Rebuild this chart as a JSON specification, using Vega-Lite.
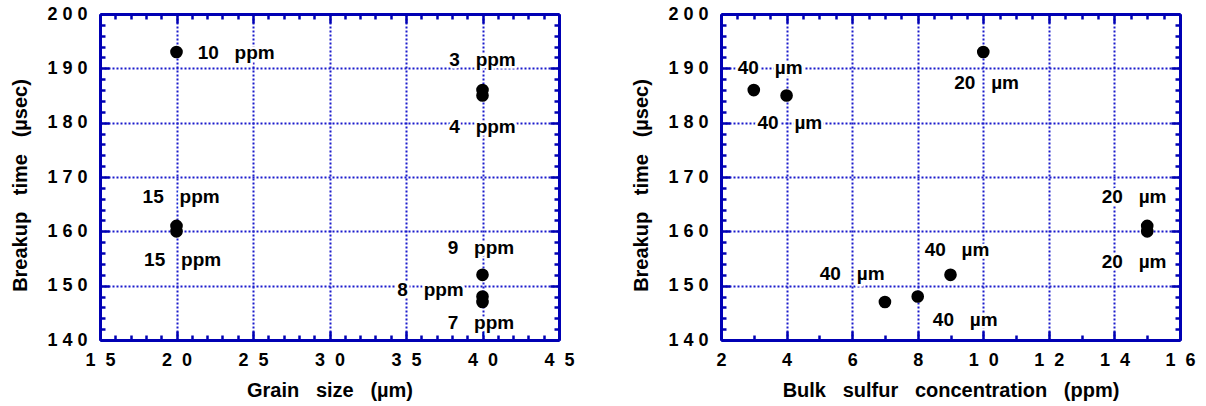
{
  "$schema": "https://vega.github.io/schema/vega-lite/v6.json",
  "background": "white",
  "padding": {"left": 10, "top": 5, "right": 5, "bottom": 5},
  "spacing": 56,
  "config": {
    "font": "Liberation Sans",
    "view": {"stroke": null},
    "axis": {
      "domainColor": "#0000b4",
      "domainWidth": 3,
      "tickColor": "#0000b4",
      "tickWidth": 2.5,
      "labelFont": "Liberation Sans",
      "labelFontSize": 18,
      "labelFontWeight": "bold",
      "labelColor": "black",
      "titleFont": "Liberation Sans",
      "titleFontSize": 20,
      "titleFontWeight": "bold",
      "titleColor": "black",
      "gridColor": "#1a1acc",
      "gridDash": [2, 2],
      "gridWidth": 2
    }
  },
  "datasets": {
    "leftPts": [
      {"g": 20, "t": 193}, {"g": 40, "t": 186}, {"g": 40, "t": 185}, {"g": 20, "t": 161},
      {"g": 20, "t": 160}, {"g": 40, "t": 152}, {"g": 40, "t": 148}, {"g": 40, "t": 147}
    ],
    "leftLbl": [
      {"g": 23.9, "t": 192.8, "label": "10\u00a0\u00a0\u00a0ppm"},
      {"g": 40.0, "t": 191.5, "label": "3\u00a0\u00a0\u00a0ppm"},
      {"g": 40.0, "t": 179.2, "label": "4\u00a0\u00a0\u00a0ppm"},
      {"g": 20.3, "t": 166.3, "label": "15\u00a0\u00a0\u00a0ppm"},
      {"g": 20.4, "t": 154.7, "label": "15\u00a0\u00a0\u00a0ppm"},
      {"g": 39.9, "t": 156.9, "label": "9\u00a0\u00a0\u00a0ppm"},
      {"g": 36.6, "t": 149.2, "label": "8\u00a0\u00a0\u00a0ppm"},
      {"g": 39.9, "t": 143.1, "label": "7\u00a0\u00a0\u00a0ppm"}
    ],
    "rightPts": [
      {"s": 3, "t": 186}, {"s": 4, "t": 185}, {"s": 10, "t": 193}, {"s": 15, "t": 161},
      {"s": 15, "t": 160}, {"s": 9, "t": 152}, {"s": 8, "t": 148}, {"s": 7, "t": 147}
    ],
    "rightLbl": [
      {"s": 3.5, "t": 190.0, "label": "40\u00a0\u00a0\u00a0µm"},
      {"s": 4.1, "t": 179.9, "label": "40\u00a0\u00a0\u00a0µm"},
      {"s": 10.1, "t": 187.3, "label": "20\u00a0\u00a0\u00a0µm"},
      {"s": 14.6, "t": 166.3, "label": "20\u00a0\u00a0\u00a0µm"},
      {"s": 14.6, "t": 154.3, "label": "20\u00a0\u00a0\u00a0µm"},
      {"s": 9.2, "t": 156.6, "label": "40\u00a0\u00a0\u00a0µm"},
      {"s": 9.45, "t": 143.7, "label": "40\u00a0\u00a0\u00a0µm"},
      {"s": 6.0, "t": 152.2, "label": "40\u00a0\u00a0\u00a0µm"}
    ]
  },
  "hconcat": [
    {
      "width": 459,
      "height": 326,
      "resolve": {"axis": {"x": "independent", "y": "independent"}},
      "layer": [
        {
          "data": {"name": "leftPts"},
          "mark": {"type": "circle", "color": "black", "opacity": 1, "size": 160},
          "encoding": {
            "x": {
              "field": "g", "type": "quantitative",
              "scale": {"domain": [15, 45], "nice": false, "zero": false},
              "axis": {
                "orient": "bottom",
                "title": "Grain\u00a0\u00a0\u00a0size\u00a0\u00a0\u00a0(µm)",
                "titlePadding": 7,
                "values": [15,16,17,18,19,20,21,22,23,24,25,26,27,28,29,30,31,32,33,34,35,36,37,38,39,40,41,42,43,44,45],
                "format": "d",
                "tickSize": {"condition": {"test": "datum.value % 5 === 0", "value": -9}, "value": -5},
                "labelPadding": 20,
                "labelFlush": false,
                "labelOverlap": false,
                "labelExpr": "datum.value % 5 === 0 ? join(split(datum.label, ''), '\u00a0\u00a0') : ''",
                "grid": true,
                "gridOpacity": {"condition": {"test": "datum.value % 5 === 0", "value": 1}, "value": 0}
              }
            },
            "y": {
              "field": "t", "type": "quantitative",
              "scale": {"domain": [140, 200], "nice": false, "zero": false},
              "axis": {
                "orient": "left",
                "title": "Breakup\u00a0\u00a0\u00a0time\u00a0\u00a0\u00a0(µsec)",
                "titlePadding": 16,
                "titleY": 171,
                "values": [140,142,144,146,148,150,152,154,156,158,160,162,164,166,168,170,172,174,176,178,180,182,184,186,188,190,192,194,196,198,200],
                "format": "d",
                "tickSize": {"condition": {"test": "datum.value % 10 === 0", "value": -9}, "value": -5},
                "labelPadding": 22,
                "labelFlush": false,
                "labelOverlap": false,
                "labelExpr": "datum.value % 10 === 0 ? join(split(datum.label, ''), ' ') : ''",
                "grid": true,
                "gridOpacity": {"condition": {"test": "datum.value % 10 === 0", "value": 1}, "value": 0}
              }
            }
          }
        },
        {
          "data": {"name": "leftLbl"},
          "mark": {"type": "text", "fontSize": 19, "fontWeight": "bold", "align": "center", "baseline": "middle", "stroke": "white", "strokeWidth": 5, "fill": "white"},
          "encoding": {
            "x": {
              "field": "g", "type": "quantitative",
              "axis": {
                "orient": "top", "title": null, "labels": false, "grid": false,
                "values": [15,16,17,18,19,20,21,22,23,24,25,26,27,28,29,30,31,32,33,34,35,36,37,38,39,40,41,42,43,44,45],
                "tickSize": {"condition": {"test": "datum.value % 5 === 0", "value": -9}, "value": -5}
              }
            },
            "y": {
              "field": "t", "type": "quantitative",
              "axis": {
                "orient": "right", "title": null, "labels": false, "grid": false,
                "values": [140,142,144,146,148,150,152,154,156,158,160,162,164,166,168,170,172,174,176,178,180,182,184,186,188,190,192,194,196,198,200],
                "tickSize": {"condition": {"test": "datum.value % 10 === 0", "value": -9}, "value": -5}
              }
            },
            "text": {"field": "label"}
          }
        },
        {
          "data": {"name": "leftLbl"},
          "mark": {"type": "text", "fontSize": 19, "fontWeight": "bold", "align": "center", "baseline": "middle", "color": "black"},
          "encoding": {
            "x": {"field": "g", "type": "quantitative", "axis": null},
            "y": {"field": "t", "type": "quantitative", "axis": null},
            "text": {"field": "label"}
          }
        }
      ]
    },
    {
      "width": 459,
      "height": 326,
      "resolve": {"axis": {"x": "independent", "y": "independent"}},
      "layer": [
        {
          "data": {"name": "rightPts"},
          "mark": {"type": "circle", "color": "black", "opacity": 1, "size": 160},
          "encoding": {
            "x": {
              "field": "s", "type": "quantitative",
              "scale": {"domain": [2, 16], "nice": false, "zero": false},
              "axis": {
                "orient": "bottom",
                "title": "Bulk\u00a0\u00a0\u00a0sulfur\u00a0\u00a0\u00a0concentration\u00a0\u00a0\u00a0(ppm)",
                "titlePadding": 7,
                "values": [2,2.5,3,3.5,4,4.5,5,5.5,6,6.5,7,7.5,8,8.5,9,9.5,10,10.5,11,11.5,12,12.5,13,13.5,14,14.5,15,15.5,16],
                "format": "d",
                "tickSize": {"condition": {"test": "datum.value % 2 === 0", "value": -9}, "value": -5},
                "labelPadding": 20,
                "labelFlush": false,
                "labelOverlap": false,
                "labelExpr": "datum.value % 2 === 0 ? join(split(datum.label, ''), '\u00a0\u00a0') : ''",
                "grid": true,
                "gridOpacity": {"condition": {"test": "datum.value % 2 === 0", "value": 1}, "value": 0}
              }
            },
            "y": {
              "field": "t", "type": "quantitative",
              "scale": {"domain": [140, 200], "nice": false, "zero": false},
              "axis": {
                "orient": "left",
                "title": "Breakup\u00a0\u00a0\u00a0time\u00a0\u00a0\u00a0(µsec)",
                "titlePadding": 16,
                "titleY": 171,
                "values": [140,142,144,146,148,150,152,154,156,158,160,162,164,166,168,170,172,174,176,178,180,182,184,186,188,190,192,194,196,198,200],
                "format": "d",
                "tickSize": {"condition": {"test": "datum.value % 10 === 0", "value": -9}, "value": -5},
                "labelPadding": 22,
                "labelFlush": false,
                "labelOverlap": false,
                "labelExpr": "datum.value % 10 === 0 ? join(split(datum.label, ''), ' ') : ''",
                "grid": true,
                "gridOpacity": {"condition": {"test": "datum.value % 10 === 0", "value": 1}, "value": 0}
              }
            }
          }
        },
        {
          "data": {"name": "rightLbl"},
          "mark": {"type": "text", "fontSize": 19, "fontWeight": "bold", "align": "center", "baseline": "middle", "stroke": "white", "strokeWidth": 5, "fill": "white"},
          "encoding": {
            "x": {
              "field": "s", "type": "quantitative",
              "axis": {
                "orient": "top", "title": null, "labels": false, "grid": false,
                "values": [2,2.5,3,3.5,4,4.5,5,5.5,6,6.5,7,7.5,8,8.5,9,9.5,10,10.5,11,11.5,12,12.5,13,13.5,14,14.5,15,15.5,16],
                "tickSize": {"condition": {"test": "datum.value % 2 === 0", "value": -9}, "value": -5}
              }
            },
            "y": {
              "field": "t", "type": "quantitative",
              "axis": {
                "orient": "right", "title": null, "labels": false, "grid": false,
                "values": [140,142,144,146,148,150,152,154,156,158,160,162,164,166,168,170,172,174,176,178,180,182,184,186,188,190,192,194,196,198,200],
                "tickSize": {"condition": {"test": "datum.value % 10 === 0", "value": -9}, "value": -5}
              }
            },
            "text": {"field": "label"}
          }
        },
        {
          "data": {"name": "rightLbl"},
          "mark": {"type": "text", "fontSize": 19, "fontWeight": "bold", "align": "center", "baseline": "middle", "color": "black"},
          "encoding": {
            "x": {"field": "s", "type": "quantitative", "axis": null},
            "y": {"field": "t", "type": "quantitative", "axis": null},
            "text": {"field": "label"}
          }
        }
      ]
    }
  ]
}
